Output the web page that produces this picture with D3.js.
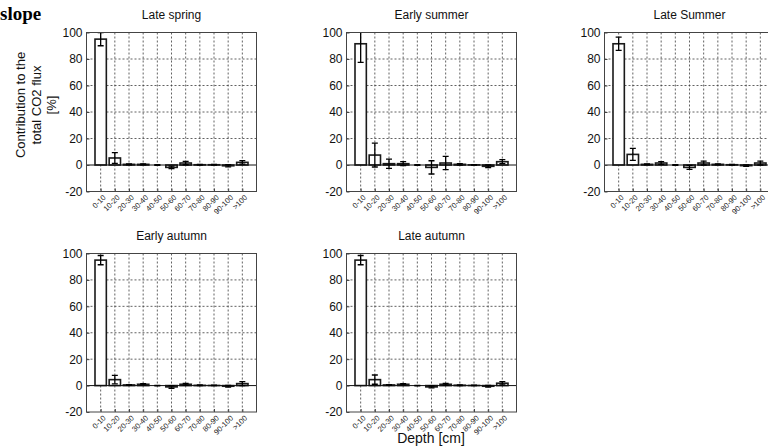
<!DOCTYPE html>
<html>
<head>
<meta charset="utf-8">
<script src="https://cdn.jsdelivr.net/npm/d3@7"></script>
<style>
  html, body { margin: 0; padding: 0; background: #fff; }
  svg { display: block; font-family: Arial, "Liberation Sans", sans-serif; }
</style>
</head>
<body>
<svg id="chart" width="768" height="447"></svg>
<script>
// Depth classes along the x axis
const categories = ["0-10", "10-20", "20-30", "30-40", "40-50", "50-60", "60-70", "70-80", "80-90", "90-100", ">100"];
const yTicks = [-20, 0, 20, 40, 60, 80, 100];

// Season names (panel titles)
const seasons = ["Late spring", "Early summer", "Late Summer", "Early autumn", "Late autumn"];

// Mean contribution to the total CO2 flux [%] per depth class, and its error
const lateSpring     = [95, 5.3, 0.5, 0.5, 0, -1.8, 1.5, 0.2, 0.2, -0.6, 2.0];
const lateSpringErr  = [5, 4.0, 0.3, 0.4, 0.2, 1.0, 1.3, 0.3, 0.3, 0.8, 1.3];
const earlySummer    = [91.5, 7.5, 1.0, 1.0, 0, -1.8, 1.5, 0.5, 0.1, -1.0, 2.5];
const earlySummerErr = [14, 9.0, 3.5, 1.5, 0.2, 5.0, 5.0, 0.6, 0.2, 1.0, 1.5];
const lateSummer     = [91.5, 8.0, 0.5, 1.5, 0, -1.8, 1.5, 0.5, 0.2, -0.5, 1.5];
const lateSummerErr  = [5, 4.5, 0.3, 1.0, 0.2, 1.5, 1.5, 0.4, 0.3, 0.6, 1.5];
const earlyAutumn    = [95, 4.5, 0.5, 1.0, 0, -1.0, 1.0, 0.2, 0.1, -0.5, 1.5];
const earlyAutumnErr = [3.5, 3.2, 0.3, 0.5, 0.2, 1.0, 0.6, 0.3, 0.2, 0.6, 1.5];
const lateAutumn     = [95, 4.5, 0.5, 1.0, 0, -1.0, 1.0, 0.3, 0.1, -0.5, 1.8];
const lateAutumnErr  = [3.5, 3.5, 0.3, 0.5, 0.2, 0.8, 0.6, 0.3, 0.2, 0.6, 1.2];

const seriesMeans = [lateSpring, earlySummer, lateSummer, earlyAutumn, lateAutumn];
const seriesErrs  = [lateSpringErr, earlySummerErr, lateSummerErr, earlyAutumnErr, lateAutumnErr];

// Panel frames (plot-area boxes)
const panelW = 170;
const frames = [
  { left: 86.5,  top: 32.5,  bottom: 191.5 },
  { left: 346.5, top: 32.5,  bottom: 191.5 },
  { left: 604.5, top: 32.5,  bottom: 191.5 },
  { left: 86.5,  top: 253.5, bottom: 412 },
  { left: 346.5, top: 253.5, bottom: 412 }
];

const svg = d3.select("#chart");

frames.forEach((f, i) => {
  const means = seriesMeans[i];
  const errs = seriesErrs[i];
  const right = f.left + panelW;

  const x = d3.scalePoint().domain(categories).range([f.left, right]).padding(1);
  const y = d3.scaleLinear().domain([-20, 100]).range([f.bottom, f.top]);
  const bw = x.step() * 0.8;

  const g = svg.append("g");
  const clipId = "clip" + i;
  svg.append("clipPath").attr("id", clipId)
    .append("rect").attr("x", f.left).attr("y", f.top)
    .attr("width", panelW).attr("height", f.bottom - f.top);

  // dashed grid
  const grid = g.append("g").attr("stroke", "#3a3a3a").attr("stroke-width", 0.8)
    .attr("stroke-dasharray", "2,2");
  grid.selectAll("line.v").data(categories).join("line")
    .attr("x1", d => x(d)).attr("x2", d => x(d))
    .attr("y1", f.top).attr("y2", f.bottom);
  grid.selectAll("line.h").data(yTicks.filter(t => t !== 0 && t !== -20 && t !== 100)).join("line")
    .attr("x1", f.left).attr("x2", right)
    .attr("y1", d => y(d)).attr("y2", d => y(d));

  // bars
  g.append("g").attr("clip-path", `url(#${clipId})`)
    .selectAll("rect").data(categories).join("rect")
    .attr("x", d => x(d) - bw / 2)
    .attr("y", (d, k) => y(Math.max(0, means[k])))
    .attr("width", bw)
    .attr("height", (d, k) => Math.abs(y(means[k]) - y(0)))
    .attr("fill", "#fff")
    .attr("stroke", "#1a1a1a")
    .attr("stroke-width", 1.6);

  // zero baseline
  g.append("line")
    .attr("x1", f.left).attr("x2", right)
    .attr("y1", y(0)).attr("y2", y(0))
    .attr("stroke", "#111").attr("stroke-width", 1);

  // error bars
  const eb = g.append("g").attr("clip-path", `url(#${clipId})`)
    .attr("stroke", "#000").attr("stroke-width", 1.3);
  categories.forEach((c, k) => {
    const cx = x(c);
    const lo = y(means[k] - errs[k]);
    const hi = y(means[k] + errs[k]);
    eb.append("line").attr("x1", cx).attr("x2", cx).attr("y1", lo).attr("y2", hi);
    eb.append("line").attr("x1", cx - 3).attr("x2", cx + 3).attr("y1", lo).attr("y2", lo);
    eb.append("line").attr("x1", cx - 3).attr("x2", cx + 3).attr("y1", hi).attr("y2", hi);
  });

  // frame
  g.append("rect")
    .attr("x", f.left).attr("y", f.top)
    .attr("width", panelW).attr("height", f.bottom - f.top)
    .attr("fill", "none").attr("stroke", "#444").attr("stroke-width", 1);

  // y axis
  const yAxis = d3.axisLeft(y).tickValues(yTicks).tickFormat(d => String(d))
    .tickSize(-3).tickPadding(4);
  const ya = g.append("g").attr("transform", `translate(${f.left},0)`).call(yAxis);
  ya.select(".domain").remove();
  ya.selectAll(".tick line").attr("stroke", "#444");
  ya.selectAll(".tick text").attr("font-size", 12).attr("fill", "#111")
    .attr("font-family", "Arial, 'Liberation Sans', sans-serif");

  // x axis with rotated labels
  const xAxis = d3.axisBottom(x).tickSize(-3).tickPadding(0);
  const xa = g.append("g").attr("transform", `translate(0,${f.bottom})`).call(xAxis);
  xa.select(".domain").remove();
  xa.selectAll(".tick line").attr("stroke", "#444");
  xa.selectAll(".tick text")
    .attr("font-size", 7.6).attr("fill", "#222")
    .attr("font-family", "Arial, 'Liberation Sans', sans-serif")
    .attr("text-anchor", "end")
    .attr("y", 0)
    .attr("dy", 0)
    .attr("transform", "translate(5,6.5) rotate(-45)");

  // title
  g.append("text")
    .attr("x", f.left + panelW / 2).attr("y", f.top - 13.5)
    .attr("text-anchor", "middle")
    .attr("font-size", 12).attr("fill", "#111")
    .text(seasons[i]);
});

// y axis label (three lines)
const ylab = svg.append("text")
  .attr("transform", "translate(25,105) rotate(-90)")
  .attr("text-anchor", "middle")
  .attr("font-size", 13).attr("fill", "#111");
["Contribution to the", "total CO2 flux", "[%]"].forEach((t, k) => {
  ylab.append("tspan").attr("x", 0).attr("dy", k === 0 ? 0 : 15.5).text(t);
});

// x axis label
svg.append("text")
  .attr("x", 431).attr("y", 443)
  .attr("text-anchor", "middle")
  .attr("font-size", 14).attr("fill", "#111")
  .text("Depth [cm]");

// group label
svg.append("text")
  .attr("x", 0).attr("y", 20)
  .attr("font-family", "'Liberation Serif', 'Times New Roman', serif")
  .attr("font-weight", "bold")
  .attr("font-size", 19).attr("fill", "#000")
  .text("slope");
</script>
</body>
</html>
